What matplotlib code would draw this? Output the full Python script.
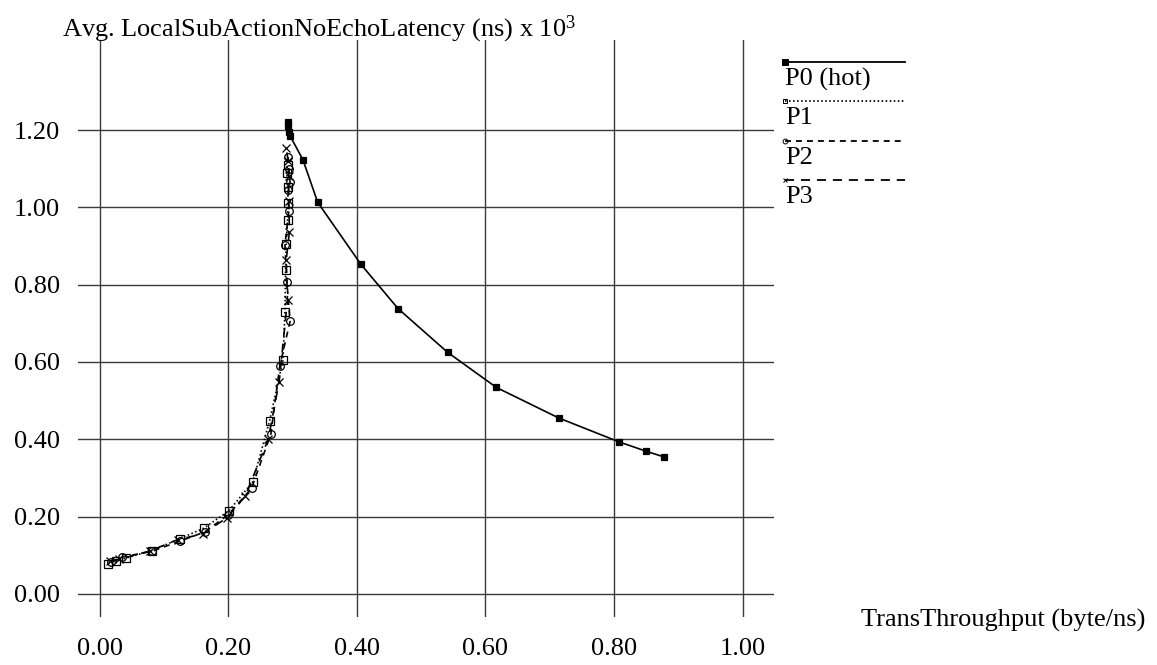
import matplotlib
matplotlib.use("Agg")
import matplotlib.pyplot as plt
from matplotlib.lines import Line2D

plt.rcParams['font.family'] = ['Liberation Serif', 'DejaVu Serif']
plt.rcParams['mathtext.fontset'] = 'custom'
plt.rcParams['mathtext.rm'] = 'Liberation Serif'
plt.rcParams['mathtext.it'] = 'Liberation Serif:italic'
plt.rcParams['lines.scale_dashes'] = False

# Throughput (byte/ns) and average latency (ns x 1e3) per node
p0_x = [0.292, 0.293, 0.295, 0.296, 0.316, 0.339, 0.406, 0.464, 0.541, 0.617, 0.714, 0.808, 0.850, 0.878]
p0_y = [1.222, 1.211, 1.196, 1.185, 1.123, 1.013, 0.853, 0.738, 0.625, 0.534, 0.455, 0.393, 0.369, 0.354]

p1_x = [0.013, 0.025, 0.040, 0.081, 0.125, 0.162, 0.201, 0.238, 0.264, 0.285, 0.288, 0.289, 0.290, 0.292, 0.293, 0.292, 0.291, 0.292]
p1_y = [0.078, 0.085, 0.092, 0.112, 0.143, 0.170, 0.215, 0.290, 0.447, 0.605, 0.730, 0.838, 0.905, 0.968, 1.011, 1.052, 1.090, 1.110]

p2_x = [0.018, 0.034, 0.081, 0.124, 0.163, 0.200, 0.236, 0.266, 0.280, 0.296, 0.291, 0.288, 0.294, 0.293, 0.296, 0.294, 0.293]
p2_y = [0.083, 0.095, 0.110, 0.136, 0.160, 0.205, 0.273, 0.413, 0.590, 0.705, 0.808, 0.903, 0.990, 1.045, 1.065, 1.100, 1.130]

p3_x = [0.016, 0.030, 0.078, 0.121, 0.160, 0.198, 0.226, 0.262, 0.279, 0.292, 0.290, 0.295, 0.294, 0.294, 0.293, 0.290]
p3_y = [0.084, 0.089, 0.111, 0.140, 0.155, 0.197, 0.252, 0.400, 0.549, 0.761, 0.864, 0.937, 1.017, 1.080, 1.120, 1.153]

x_ticks = [0.0, 0.2, 0.4, 0.6, 0.8, 1.0]
y_ticks = [0.0, 0.2, 0.4, 0.6, 0.8, 1.0, 1.2]
series_names = ["P0 (hot)", "P1", "P2", "P3"]

W, H = 1157, 665
FS = 19
fig = plt.figure(figsize=(W / 100, H / 100), dpi=100)
fig.patch.set_facecolor('white')

ax_l, ax_r, ax_t, ax_b = 78, 774, 40, 617
ax = fig.add_axes([ax_l / W, 1 - ax_b / H, (ax_r - ax_l) / W, (ax_b - ax_t) / H])
ax.set_xlim(-0.034, 1.049)
ax.set_ylim(-0.06, 1.433)
for s in ax.spines.values():
    s.set_visible(False)
ax.set_xticks(x_ticks)
ax.set_yticks(y_ticks)
ax.set_xticklabels([f"{v:.2f}" for v in x_ticks])
ax.set_yticklabels([f"{v:.2f}" for v in y_ticks])
ax.tick_params(length=0, labelsize=FS, colors='black')
ax.tick_params(axis='x', pad=15)
ax.tick_params(axis='y', pad=13)
ax.grid(True, color='#3a3a3a', linewidth=1.0)
ax.set_axisbelow(True)

styles = [
    dict(linestyle='-', marker='s', markersize=5, markerfacecolor='black'),
    dict(linestyle=(0, (1.1, 1.8)), marker='s', markersize=5.5, markerfacecolor='none'),
    dict(linestyle=(0, (4.3, 3.6)), marker='o', markersize=5.5, markerfacecolor='none'),
    dict(linestyle=(0, (6.5, 5.0)), marker='x', markersize=5.5, markerfacecolor='none'),
]
data = [(p0_x, p0_y), (p1_x, p1_y), (p2_x, p2_y), (p3_x, p3_y)]
for (xs, ys), st in zip(reversed(data), reversed(styles)):
    ax.plot(xs, ys, color='black', linewidth=1.2, markeredgecolor='black',
            markeredgewidth=0.9, **st)

# Title and axis label
fig.text(62 / W, 1 - 36 / H, "Avg. LocalSubActionNoEchoLatency (ns) x 10$^{3}$",
         fontsize=FS, ha='left', va='baseline')
fig.text(1145 / W, 1 - 620 / H, "TransThroughput (byte/ns)",
         fontsize=FS, ha='right', va='center')

# Legend: line sample with the label beneath it
leg_y = [62, 101, 141, 180]
leg_ms = [4.5, 3.5, 3.5, 3.5]
for name, st, yy, ms in zip(series_names, styles, leg_y, leg_ms):
    yf = 1 - yy / H
    line = Line2D([785 / W, 905 / W], [yf, yf], transform=fig.transFigure,
                  color='black', linewidth=1.3, linestyle=st['linestyle'])
    fig.add_artist(line)
    mk = Line2D([785 / W], [yf], transform=fig.transFigure, color='black',
                marker=st['marker'], markersize=ms, markerfacecolor=st['markerfacecolor'],
                markeredgecolor='black', markeredgewidth=0.7, linestyle='none')
    fig.add_artist(mk)
    fig.text(785 / W, 1 - (yy + 17) / H, name, fontsize=FS, ha='left', va='center')

fig.savefig("out.png", dpi=100, facecolor='white')
